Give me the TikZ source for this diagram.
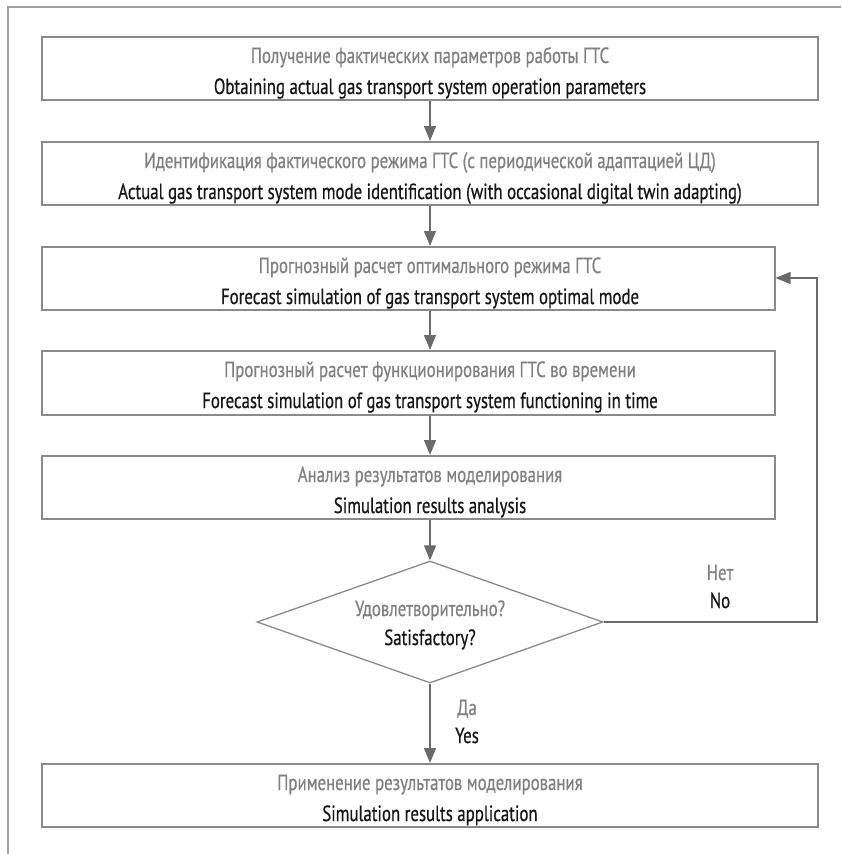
\documentclass[tikz,border=0pt]{standalone}
\usepackage{fontspec}
\setmainfont{PT Sans}[FakeStretch=0.765,FakeBold=0.6]
\usetikzlibrary{arrows.meta,shapes.geometric}
\definecolor{rus}{HTML}{808080}
\definecolor{eng}{HTML}{161616}
\definecolor{boxline}{HTML}{8A8A8A}
\definecolor{arrline}{HTML}{6A6A6A}
\definecolor{frameline}{HTML}{A0A0A0}
\tikzset{
  blk/.style={draw=boxline,line width=1.5pt,rectangle,inner sep=0pt,anchor=north west},
  ru/.style={anchor=base,inner sep=0pt,text=rus,font=\fontsize{22}{26}\selectfont},
  en/.style={anchor=base,inner sep=0pt,text=eng,font=\fontsize{22}{26}\selectfont},
  arr/.style={draw=arrline,line width=1.3pt,-{Triangle[length=15pt,width=12pt]},arrow color},
  arrow color/.style={color=arrline},
}
\begin{document}
\begin{tikzpicture}[x=1pt,y=-1pt]
\useasboundingbox (0,0) rectangle (841,854);
\draw[frameline,line width=2pt] (8,854) -- (8,7) -- (841,7);
\coordinate (ax) at (430,0);
% boxes
\node[blk,minimum width=776pt,minimum height=63pt] (b1) at (41,36) {};
\node[blk,minimum width=776pt,minimum height=63pt] (b2) at (41,141) {};
\node[blk,minimum width=733pt,minimum height=63pt] (b3) at (41,246) {};
\node[blk,minimum width=733pt,minimum height=64pt] (b4) at (41,350) {};
\node[blk,minimum width=733pt,minimum height=63pt] (b5) at (41,455) {};
\node[draw=boxline,line width=1.3pt,diamond,aspect=2.836,minimum width=346pt,minimum height=122pt,inner sep=0pt] (d) at (430,622) {};
\node[blk,minimum width=776pt,minimum height=63pt] (b6) at (41,763) {};
% texts
\node[ru] (t1r) at (430,63) {Получение фактических параметров работы ГТС};
\node[en] (t1e) at (430,94) {Obtaining actual gas transport system operation parameters};
\node[ru] (t2r) at (430,168) {Идентификация фактического режима ГТС (с периодической адаптацией ЦД)};
\node[en] (t2e) at (430,199) {Actual gas transport system mode identification (with occasional digital twin adapting)};
\node[ru] (t3r) at (430,273) {Прогнозный расчет оптимального режима ГТС};
\node[en] (t3e) at (430,304) {Forecast simulation of gas transport system optimal mode};
\node[ru] (t4r) at (430,377) {Прогнозный расчет функционирования ГТС во времени};
\node[en] (t4e) at (430,408) {Forecast simulation of gas transport system functioning in time};
\node[ru] (t5r) at (430,482) {Анализ результатов моделирования};
\node[en] (t5e) at (430,513) {Simulation results analysis};
\node[ru] (tdr) at (430,616) {Удовлетворительно?};
\node[en] (tde) at (430,645) {Satisfactory?};
\node[ru] (t6r) at (430,790) {Применение результатов моделирования};
\node[en] (t6e) at (430,821) {Simulation results application};
\node[ru] (nor) at (720,580) {Нет};
\node[en] (noe) at (720,608) {No};
\node[ru] (yer) at (467,715) {Да};
\node[en] (yee) at (467,743) {Yes};
% arrows
\draw[arr] (b1.south -| ax) -- (b2.north -| ax);
\draw[arr] (b2.south -| ax) -- (b3.north -| ax);
\draw[arr] (b3.south -| ax) -- (b4.north -| ax);
\draw[arr] (b4.south -| ax) -- (b5.north -| ax);
\draw[arr] (b5.south -| ax) -- (d.north);
\draw[arr] (d.south) -- (b6.north -| ax);
\coordinate (fb) at (817,0);
\draw[arr] (d.east) -- (d.east -| fb) -- ([yshift=-32pt]b3.north -| fb) -- ([yshift=-32pt]b3.north east);
\end{tikzpicture}
\end{document}
